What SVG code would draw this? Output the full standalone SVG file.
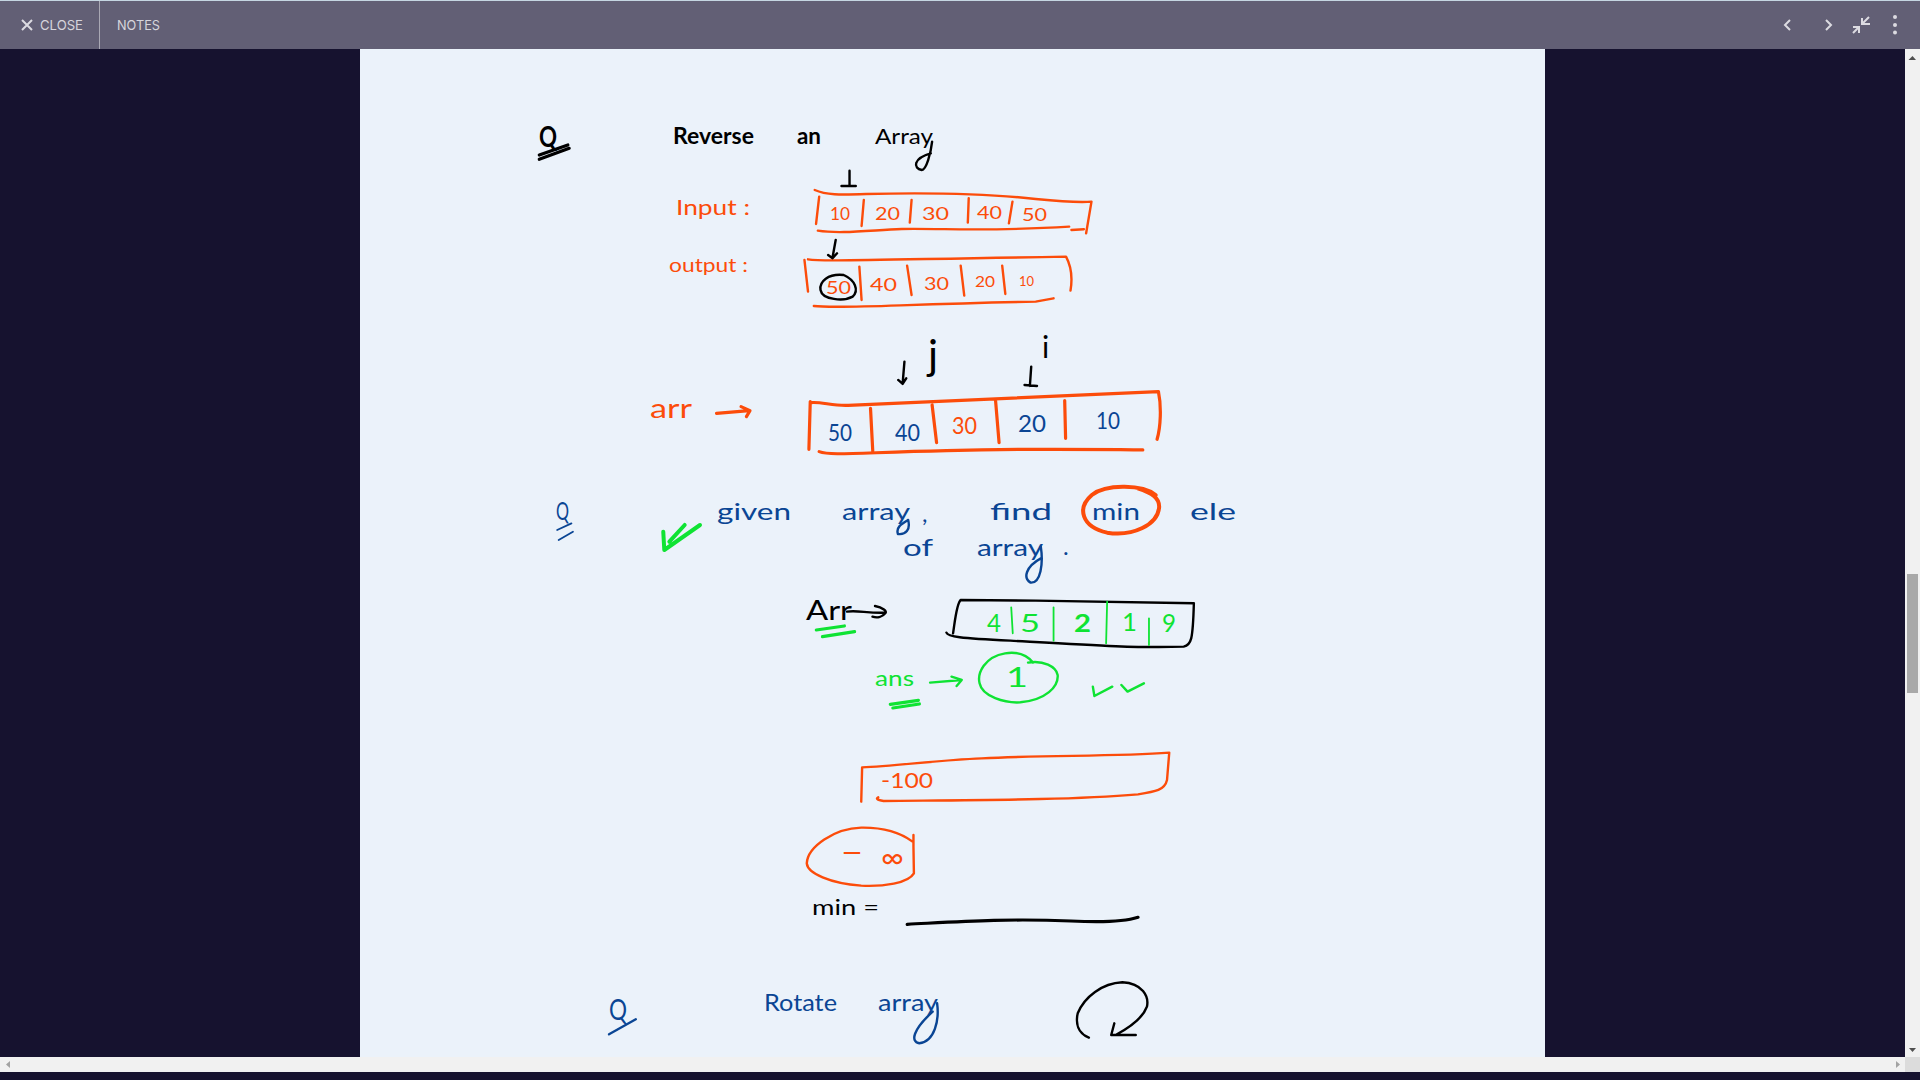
<svg xmlns="http://www.w3.org/2000/svg" width="1920" height="1080" viewBox="0 0 1920 1080">
<style>
.ink{fill:none;stroke-linecap:round;stroke-linejoin:round;vector-effect:non-scaling-stroke}
.o{stroke:#fc4c0a;stroke-width:2.4}.n{stroke:#0a4594;stroke-width:2.4}.g{stroke:#0fe333;stroke-width:2.4}.k{stroke:#000;stroke-width:2.4}
.w4{stroke-width:4}.w3{stroke-width:3.2}.w15{stroke-width:1.8}
text{font-family:"Lato","Noto Sans",sans-serif}
.to{fill:#fc4c0a}.tn{fill:#0a4594}.tg{fill:#0fe333}.tk{fill:#000}
.ui{font-family:"Inter","Roboto",sans-serif;font-size:13.5px;fill:#d6d5dc}
.uis{fill:none;stroke:#dcdbe1;stroke-width:2}
</style>
<rect width="1920" height="1080" fill="#16122f"/>
<rect x="360" y="49" width="1185" height="1008" fill="#ebf2fa"/>
<g id="topbar">
<rect width="1920" height="1" fill="#c5d6e2"/>
<rect y="1" width="1920" height="48" fill="#625f75"/>
<rect x="99" y="1" width="1" height="48" fill="#a9a8b4"/>
<path class="uis" d="M22 20L32 30M32 20L22 30" stroke-width="1.500"/>
<text class="ui" x="40" y="30" textLength="43" lengthAdjust="spacingAndGlyphs">CLOSE</text>
<text class="ui" x="117" y="30" textLength="43" lengthAdjust="spacingAndGlyphs">NOTES</text>
<path class="uis" d="M1790 20L1785 25L1790 30M1826 20L1831 25L1826 30"/>
<path class="uis" d="M1869 17L1862 24M1862 18V24H1870M1853 33L1859 27M1853 27H1859V33"/>
<circle cx="1895" cy="17" r="2" fill="#dcdbe1"/><circle cx="1895" cy="25" r="2" fill="#dcdbe1"/><circle cx="1895" cy="32.500" r="2" fill="#dcdbe1"/>
</g>
<g id="scrollbars">
<rect x="1905" y="49" width="15" height="1008" fill="#f1f1f1"/>
<path d="M1908.500 60L1912.500 56L1916 60Z" fill="#505050"/>
<rect x="1907" y="574" width="11" height="119" fill="#a9a9a9"/>
<path d="M1909 1048L1912.500 1052L1916 1048Z" fill="#505050"/>
<rect y="1057" width="1905" height="15" fill="#f1f1f1"/>
<rect x="1905" y="1057" width="15" height="15" fill="#dcdcdc"/>
<path d="M6 1064.500L10 1061V1068Z" fill="#a3a3a3"/>
<path d="M1896 1061L1900 1064.500L1896 1068Z" fill="#a3a3a3"/>
</g>
<g id="reverse-ink" transform="translate(500 100) scale(.4464 .3333)">
<path class="ink k w3" d="M88 165L152 135M88 178L155 145"/>
<path class="ink k" d="M968 125C965 160 955 210 945 210C925 205 925 175 965 160"/>
<path class="ink o" d="M705 270C730 285 760 285 820 282C950 278 1100 282 1200 297C1260 305 1300 308 1325 305L1313 400M715 290L708 372M712 392C760 402 820 392 900 387C1000 385 1100 395 1275 380M1280 390L1308 388M815 300L810 378M922 300L918 368M1050 295L1048 368M1148 305L1140 370"/>
<path class="ink o" d="M682 480L690 575M690 478C720 485 800 480 1268 470C1280 500 1282 540 1278 572M703 618C760 628 900 612 1200 605L1240 595M805 500L810 600M912 497L922 585M1032 497L1040 587M1125 497L1132 582"/>
<path class="ink k" d="M770 525C735 520 715 545 718 570C722 600 770 605 790 590C805 570 795 540 770 525"/>
<path class="ink k" d="M783 212L783 258M765 258L797 258M752 420L745 472M735 465L745 475L755 460M906 785L902 850M892 840L902 852L910 835M1190 800L1187 858M1175 855L1203 858"/>
<path class="ink o w3" d="M695 905L692 1048M697 908C720 905 745 918 780 916C950 905 1200 890 1475 875C1482 920 1480 980 1472 1018M715 1055C740 1068 800 1058 1000 1052C1200 1045 1300 1048 1440 1050M830 925L835 1052M968 915L978 1028M1110 900L1118 1028M1265 902L1267 1015"/>
<path class="ink o w3" d="M485 940L558 932M540 920L560 932L552 950"/>
</g>
<g id="reverse-text">
<text class="tk" x="539" y="147" font-size="28" font-weight="700" textLength="18" lengthAdjust="spacingAndGlyphs">Q</text>
<text class="tk" x="673" y="144" font-size="22" font-weight="700" textLength="81" lengthAdjust="spacingAndGlyphs">Reverse</text>
<text class="tk" x="797" y="144" font-size="22" font-weight="700" textLength="24" lengthAdjust="spacingAndGlyphs">an</text>
<text class="tk" x="875" y="144" font-size="22" textLength="58" lengthAdjust="spacingAndGlyphs">Array</text>
<text class="to" x="676" y="215" font-size="21" textLength="74" lengthAdjust="spacingAndGlyphs">Input :</text>
<text class="to" x="669" y="272" font-size="20" textLength="79" lengthAdjust="spacingAndGlyphs">output :</text>
<g class="to" font-size="18">
<text x="830" y="220" textLength="20" lengthAdjust="spacingAndGlyphs">10</text>
<text x="875" y="220" textLength="25" lengthAdjust="spacingAndGlyphs">20</text>
<text x="922" y="220" textLength="27" lengthAdjust="spacingAndGlyphs">30</text>
<text x="977" y="219" textLength="25" lengthAdjust="spacingAndGlyphs">40</text>
<text x="1022" y="221" textLength="25" lengthAdjust="spacingAndGlyphs">50</text>
<text x="826" y="294" textLength="25" lengthAdjust="spacingAndGlyphs">50</text>
<text x="870" y="291" textLength="27" lengthAdjust="spacingAndGlyphs">40</text>
<text x="924" y="290" textLength="25" lengthAdjust="spacingAndGlyphs">30</text>
<text x="975" y="287" font-size="15" textLength="20" lengthAdjust="spacingAndGlyphs">20</text>
<text x="1019" y="286" font-size="14" textLength="15" lengthAdjust="spacingAndGlyphs">10</text>
</g>
<text class="to" x="650" y="418" font-size="27" textLength="42" lengthAdjust="spacingAndGlyphs">arr</text>
<g font-size="23">
<text class="tn" x="828" y="441" textLength="24" lengthAdjust="spacingAndGlyphs">50</text>
<text class="tn" x="895" y="441" textLength="25" lengthAdjust="spacingAndGlyphs">40</text>
<text class="to" x="952" y="434" textLength="25" lengthAdjust="spacingAndGlyphs">30</text>
<text class="tn" x="1018" y="432" textLength="28" lengthAdjust="spacingAndGlyphs">20</text>
<text class="tn" x="1096" y="429" textLength="24" lengthAdjust="spacingAndGlyphs">10</text>
</g>
<text class="tk" x="928" y="370" font-size="42">j</text>
<text class="tk" x="1042" y="358" font-size="30">i</text>
</g>
<g id="min-ink" transform="translate(500 470) scale(.5102 .3333)">
<path class="ink n w15" d="M112 180L140 160M115 210L143 185"/>
<path class="ink g w4" d="M320 185L322 240L392 165M332 215L362 165"/>
<path class="ink o w4" d="M1285 75C1260 45 1190 40 1160 75C1130 115 1140 170 1190 188C1240 200 1290 165 1292 110C1292 85 1280 70 1250 55"/>
<path class="ink n" d="M800 150C805 180 795 195 780 192C775 170 790 160 800 150M1060 230C1065 280 1060 340 1040 338C1025 325 1030 290 1060 265"/>
<path class="ink k" d="M875 488C878 500 900 505 1000 512C1150 525 1250 535 1340 530C1355 525 1358 510 1360 400L1050 392L903 390C895 400 892 450 888 490"/>
<path class="ink g w15" d="M1002 412L1005 490M1085 412L1085 512M1190 395L1188 520M1272 445L1272 525"/>
<path class="ink k" d="M680 425C700 420 720 430 755 428M735 408C750 412 760 425 755 430C750 440 740 445 730 440"/>
<path class="ink g w3" d="M620 480L675 468M632 500L695 485M765 703L820 691M770 714L822 702"/>
<path class="ink g" d="M843 638L905 630M885 620L905 630L895 648M1162 650L1165 678L1200 650M1218 645L1230 665L1262 640"/>
<path class="ink g" d="M1045 578C1030 550 1010 545 990 550C950 560 935 610 940 640C945 680 990 700 1020 697C1070 690 1095 650 1093 615C1090 590 1065 570 1035 578"/>
</g>
<g id="min-text">
<text class="tn" x="556" y="520" font-size="25" textLength="13" lengthAdjust="spacingAndGlyphs">Q</text>
<g class="tn" font-size="24">
<text x="717" y="520" textLength="74" lengthAdjust="spacingAndGlyphs">given</text>
<text x="842" y="520" textLength="68" lengthAdjust="spacingAndGlyphs">array</text>
<text x="922" y="522">,</text>
<text x="990" y="520" textLength="62" lengthAdjust="spacingAndGlyphs">find</text>
<text x="1092" y="520" textLength="48" lengthAdjust="spacingAndGlyphs">min</text>
<text x="1190" y="520" textLength="46" lengthAdjust="spacingAndGlyphs">ele</text>
<text x="903" y="556" textLength="30" lengthAdjust="spacingAndGlyphs">of</text>
<text x="977" y="556" textLength="66" lengthAdjust="spacingAndGlyphs">array</text>
<text x="1063" y="555">.</text>
</g>
<text class="tk" x="806" y="620" font-size="26" textLength="46" lengthAdjust="spacingAndGlyphs">Arr</text>
<g class="tg" font-size="25">
<text x="987" y="632" textLength="14" lengthAdjust="spacingAndGlyphs">4</text>
<text x="1020" y="632" textLength="20" lengthAdjust="spacingAndGlyphs">5</text>
<text x="1074" y="632" font-weight="700" textLength="17" lengthAdjust="spacingAndGlyphs">2</text>
<text x="1122" y="631" textLength="15" lengthAdjust="spacingAndGlyphs">1</text>
<text x="1162" y="632" textLength="14" lengthAdjust="spacingAndGlyphs">9</text>
<text x="1006" y="687" font-size="26" textLength="22" lengthAdjust="spacingAndGlyphs">1</text>
</g>
<text class="tg" x="875" y="686" font-size="22" textLength="39" lengthAdjust="spacingAndGlyphs">ans</text>
</g>
<g id="rotate-ink" transform="translate(580 740) scale(.4464 .3333)">
<path class="ink o" d="M632 82C700 80 800 60 900 55C1050 45 1200 50 1320 38L1315 120C1310 150 1290 155 1250 163C1100 180 900 180 680 183C664 180 663 175 668 172M632 82L630 185"/>
<path class="ink o" d="M747 285L747 320L748 400C735 430 680 440 630 437C560 430 510 400 508 370C510 320 570 265 630 263C680 262 720 280 745 305"/>
<path class="ink k w3" d="M733 553C850 545 950 535 1100 543C1170 548 1220 545 1250 532"/>
<path class="ink k" d="M1140 893C1115 880 1110 850 1115 820C1130 770 1170 730 1215 727C1260 730 1275 770 1270 800C1262 830 1235 860 1200 885M1197 850L1190 885L1245 885"/>
<path class="ink n" d="M65 883L125 838"/>
<path class="ink n" d="M800 790C805 840 795 905 760 910C740 905 745 870 790 815"/>
</g>
<g id="rotate-text">
<text class="to" x="881" y="788" font-size="22" textLength="52" lengthAdjust="spacingAndGlyphs">-100</text>
<text class="to" x="841" y="863" font-size="30" textLength="22" lengthAdjust="spacingAndGlyphs">−</text>
<text class="to" x="881" y="868" font-size="30" textLength="23" lengthAdjust="spacingAndGlyphs">∞</text>
<text class="tk" x="812" y="915" font-size="21" textLength="67" lengthAdjust="spacingAndGlyphs">min =</text>
<text class="tn" x="609" y="1020" font-size="28" textLength="18" lengthAdjust="spacingAndGlyphs">Q</text>
<text class="tn" x="764" y="1011" font-size="24" textLength="73" lengthAdjust="spacingAndGlyphs">Rotate</text>
<text class="tn" x="878" y="1011" font-size="24" textLength="60" lengthAdjust="spacingAndGlyphs">array</text>
</g>
</svg>
